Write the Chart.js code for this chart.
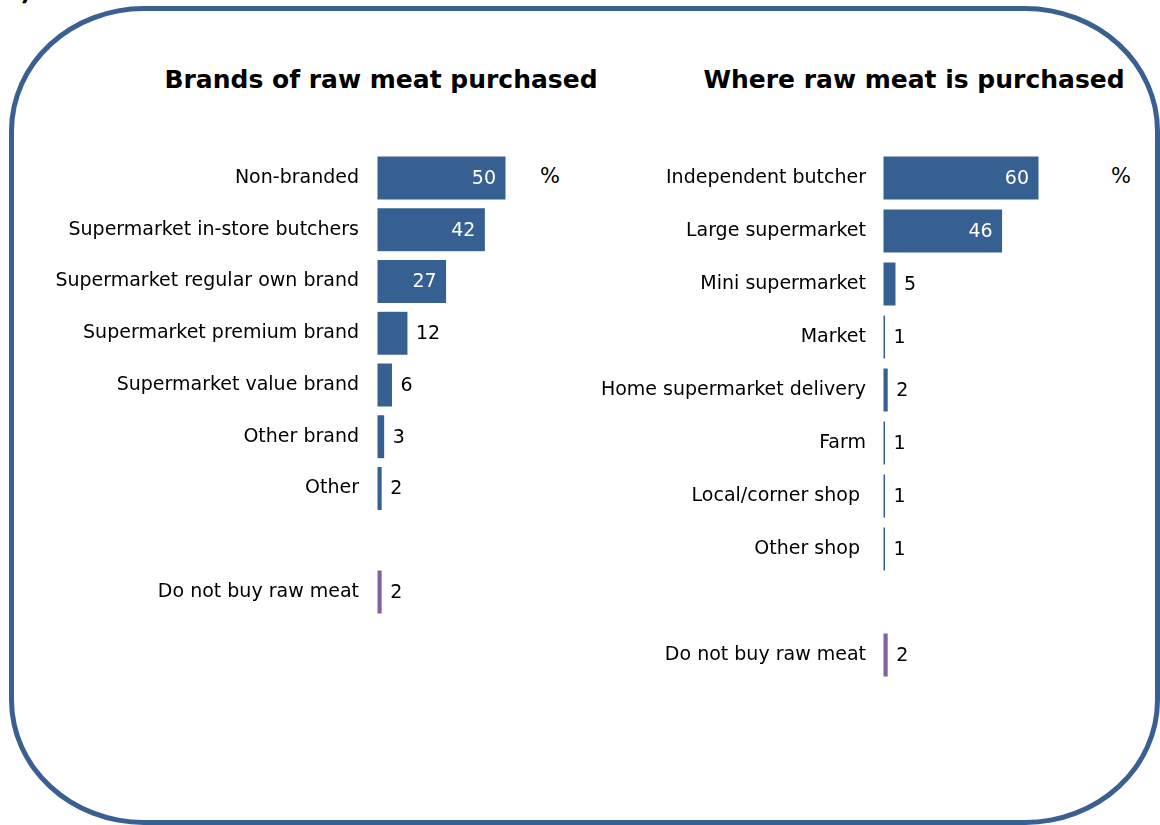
<!DOCTYPE html>
<html lang="en">
<head>
    <meta charset="UTF-8">
    <title>Raw meat purchasing</title>
    <script src="https://cdn.jsdelivr.net/npm/chart.js"></script>
    <style>
        body {
            margin: 0;
            width: 1160px;
            height: 825px;
            position: relative;
            overflow: hidden;
            background: #fff;
            font-family: "DejaVu Sans", Verdana, sans-serif;
        }
        .frame {
            position: absolute;
            left: 9px;
            top: 6px;
            width: 1151px;
            height: 819px;
            box-sizing: border-box;
            border: 5px solid #3a6091;
            border-radius: 135px / 125px;
        }
        .panel-tag {
            position: absolute;
            left: 6px;
            top: -20px;
            font-size: 24px;
            line-height: 24px;
            font-weight: bold;
        }
        .title {
            position: absolute;
            width: 600px;
            text-align: center;
            font-weight: bold;
            font-size: 25px;
            line-height: 30px;
            top: 65px;
        }
        .pct {
            position: absolute;
            font-size: 21px;
            line-height: 26px;
            top: 163px;
        }
        canvas {
            position: absolute;
            left: 0;
            top: 0;
        }
    </style>
</head>
<body>
    <div class="frame"></div>
    <div class="panel-tag">c)</div>
    <div class="title" style="left: 81px;">Brands of raw meat purchased</div>
    <div class="title" style="left: 614px;">Where raw meat is purchased</div>
    <div class="pct" style="left: 540px;">%</div>
    <div class="pct" style="left: 1111px;">%</div>

    <canvas id="brandsChart" width="1160" height="825"></canvas>
    <canvas id="placesChart" width="1160" height="825"></canvas>

    <script>
        // brands (empty slot keeps the gap before the last row)
        const brandLabels = [
            'Non-branded',
            'Supermarket in-store butchers',
            'Supermarket regular own brand',
            'Supermarket premium brand',
            'Supermarket value brand',
            'Other brand',
            'Other',
            '',
            'Do not buy raw meat'
        ];
        const brandValues = [50, 42, 27, 12, 6, 3, 2, null, 2];

        // places of purchase
        const placeLabels = [
            'Independent butcher',
            'Large supermarket',
            'Mini supermarket',
            'Market',
            'Home supermarket delivery',
            'Farm',
            'Local/corner shop ',
            'Other shop ',
            '',
            'Do not buy raw meat'
        ];
        const placeValues = [60, 46, 5, 1, 2, 1, 1, 1, null, 2];

        const BLUE = '#366092';
        const PURPLE = '#8064a2';
        const labelFont = { family: 'DejaVu Sans', size: 19 };

        function barColors(labels) {
            return labels.map(l => l === 'Do not buy raw meat' ? PURPLE : BLUE);
        }

        // value labels: white inside long bars, black just past short ones
        const valueLabels = {
            id: 'valueLabels',
            afterDatasetsDraw(chart) {
                const ctx = chart.ctx;
                const data = chart.data.datasets[0].data;
                ctx.save();
                ctx.font = '19px "DejaVu Sans"';
                ctx.textBaseline = 'middle';
                chart.getDatasetMeta(0).data.forEach((bar, i) => {
                    const v = data[i];
                    if (v === null) return;
                    if (v >= 20) {
                        ctx.fillStyle = '#fff';
                        ctx.textAlign = 'right';
                        ctx.fillText(v, bar.x - 10, bar.y + 1);
                    } else {
                        ctx.fillStyle = '#000';
                        ctx.textAlign = 'left';
                        ctx.fillText(v, bar.x + 8, bar.y + 1);
                    }
                });
                ctx.restore();
            }
        };

        function makeChart(id, labels, values, axisWidth, labelPad, padding, barPct) {
            return new Chart(document.getElementById(id), {
                type: 'bar',
                data: {
                    labels: labels,
                    datasets: [{
                        data: values,
                        backgroundColor: barColors(labels),
                        borderColor: 'rgba(255,255,255,0.3)',
                        borderWidth: 0.5,
                        borderSkipped: false,
                        categoryPercentage: 1,
                        barPercentage: barPct
                    }]
                },
                options: {
                    indexAxis: 'y',
                    responsive: false,
                    animation: false,
                    devicePixelRatio: 1,
                    layout: { padding: padding },
                    plugins: {
                        legend: { display: false },
                        tooltip: { enabled: false }
                    },
                    scales: {
                        x: {
                            display: false,
                            min: 0,
                            max: 100
                        },
                        y: {
                            grid: { display: false },
                            border: { display: false },
                            ticks: {
                                color: '#000',
                                font: labelFont,
                                padding: labelPad,
                                autoSkip: false
                            },
                            afterFit: function(scale) {
                                scale.width = axisWidth;
                            }
                        }
                    }
                },
                plugins: [valueLabels]
            });
        }

        makeChart('brandsChart', brandLabels, brandValues, 377, 10,
            { left: 0, top: 152, bottom: 207, right: 525 }, 0.85);
        makeChart('placesChart', placeLabels, placeValues, 883, 9,
            { left: 0, top: 151.5, bottom: 143.5, right: 17 }, 0.83);
    </script>
</body>
</html>
